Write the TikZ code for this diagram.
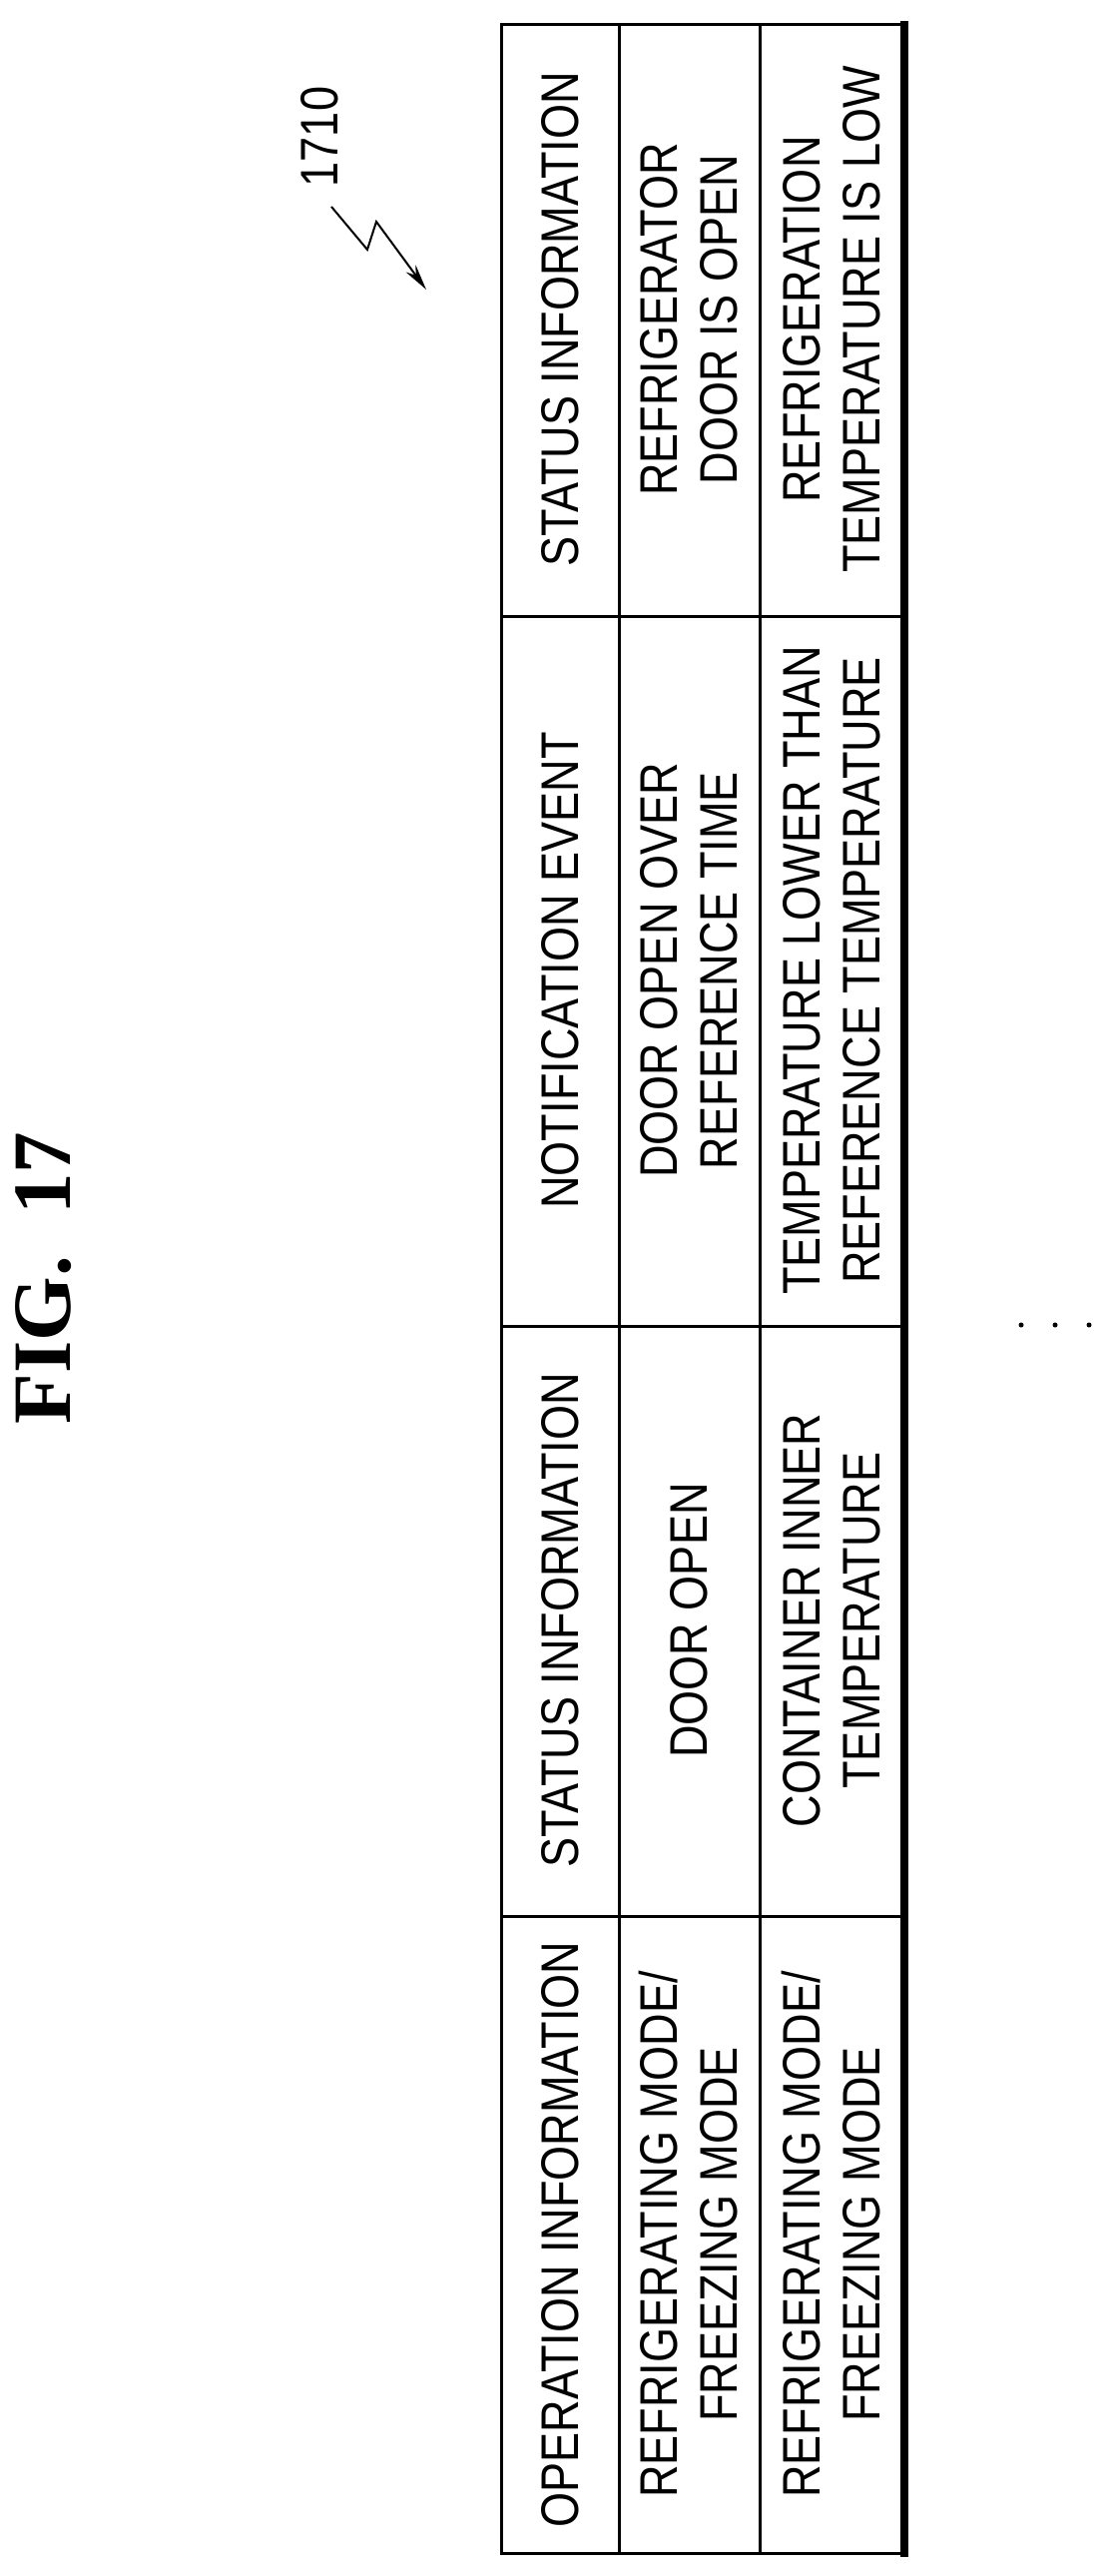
\documentclass[tikz,border=0pt]{standalone}
\usepackage{fontspec}
\newfontfamily\tbl[FakeStretch=0.85]{Liberation Sans}
\newfontfamily\figfont{Liberation Serif}
\usetikzlibrary{arrows.meta}
\tikzset{
  cell/.style={rotate=90,align=center,inner sep=0pt,font=\tbl\fontsize{53}{60}\selectfont},
  grid/.style={line width=3pt},
}
\begin{document}
\begin{tikzpicture}[x=1pt,y=-1pt]
\useasboundingbox (0,0) rectangle (1114,2580);
% table lines
\draw[grid] (502,25) rectangle (906,2557);
\draw[line width=8pt] (906,21) -- (906,2561);
\draw[grid] (620,25) -- (620,2557);
\draw[grid] (761,25) -- (761,2557);
\draw[grid] (502,617) -- (906,617);
\draw[grid] (502,1328) -- (906,1328);
\draw[grid] (502,1919) -- (906,1919);
% header column
\node[cell] (h1) at (561,320) {STATUS INFORMATION};
\node[cell] (h2) at (561,972) {NOTIFICATION EVENT};
\node[cell] (h3) at (561,1623) {STATUS INFORMATION};
\node[cell] (h4) at (561,2238) {OPERATION INFORMATION};
% row 1
\node[cell] (a1) at (690,320) {REFRIGERATOR\\DOOR IS OPEN};
\node[cell] (a2) at (690,972) {DOOR OPEN OVER\\REFERENCE TIME};
\node[cell] (a3) at (690,1623) {DOOR OPEN};
\node[cell] (a4) at (690,2238) {REFRIGERATING MODE/\\FREEZING MODE};
% row 2
\node[cell] (b1) at (833,320) {REFRIGERATION\\TEMPERATURE IS LOW};
\node[cell] (b2) at (833,972) {TEMPERATURE LOWER THAN\\REFERENCE TEMPERATURE};
\node[cell] (b3) at (833,1623) {CONTAINER INNER\\TEMPERATURE};
\node[cell] (b4) at (833,2238) {REFRIGERATING MODE/\\FREEZING MODE};
% dots
\fill (1023,1327) circle (2.5) (1057,1327) circle (2.5) (1091,1327) circle (2.5);
% title
\node[rotate=90,inner sep=0pt,font=\figfont\bfseries\fontsize{83}{90}\selectfont] (fig) at (44,1280) {FIG.\ \ 17};
% reference label
\node[rotate=90,inner sep=0pt,font=\tbl\fontsize{53}{60}\selectfont] (lbl) at (320,137) {1710};
\coordinate (s0) at (332,207);
\coordinate (s1) at (368,250);
\coordinate (s2) at (377,222);
\coordinate (s3) at (427,290);
\draw[line width=2pt,-{Stealth[length=26pt,width=12pt]}] (s0) -- (s1) -- (s2) -- (s3);
\end{tikzpicture}
\end{document}
